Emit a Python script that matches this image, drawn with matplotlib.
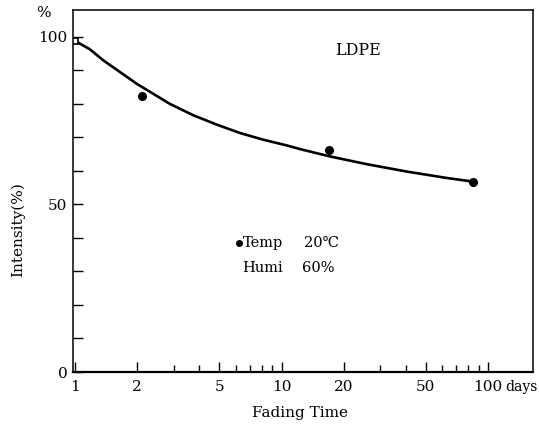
import numpy as np
import matplotlib
matplotlib.use('Agg')
from matplotlib import pyplot as plt
from matplotlib.ticker import FixedLocator, NullFormatter

plt.rcParams['font.family'] = ['DejaVu Serif', 'DejaVu Sans']

# measured points (days, intensity %)
point_days = [1.0, 2.1, 17.0, 84.5]
point_int = [98.8, 82.3, 66.3, 56.7]

# fitted curve
curve_days = [1.0, 1.18, 1.37, 1.99, 2.88, 3.74, 4.86, 6.3, 8.17, 10.6, 12.3,
              17.2, 25.9, 40.4, 63.0, 84.6]
curve_int = [98.8, 96.3, 93.0, 86.0, 80.0, 76.6, 73.8, 71.3, 69.3, 67.6, 66.5,
             64.3, 62.0, 59.8, 57.9, 56.8]

x_major = [1, 2, 5, 10, 20, 50, 100]
x_labels = ['1', '2', '5', '10', '20', '50', '100']
x_minor = [3, 4, 6, 7, 8, 9, 30, 40, 60, 70, 80, 90]
y_major = [0, 50, 100]
y_minor = [10, 20, 30, 40, 60, 70, 80, 90]

fig = plt.figure(figsize=(5.39, 4.28), dpi=100)
ax = fig.add_axes([0.1354, 0.1308, 0.8535, 0.8458])

ax.plot(curve_days, curve_int, color='black', lw=1.9, solid_capstyle='round',
        solid_joinstyle='round')
ax.plot(point_days[1:], point_int[1:], 'o', color='black', ms=5.5)
ax.plot(point_days[:1], point_int[:1], 's', mfc='white', mec='black', ms=4, mew=1.2)

ax.set_xscale('log')
ax.set_xlim(0.978, 165)
ax.set_ylim(0, 108)

ax.xaxis.set_major_locator(FixedLocator(x_major))
ax.xaxis.set_minor_locator(FixedLocator(x_minor))
ax.set_xticklabels(x_labels)
ax.xaxis.set_minor_formatter(NullFormatter())
ax.yaxis.set_major_locator(FixedLocator(y_major))
ax.yaxis.set_minor_locator(FixedLocator(y_minor))

ax.tick_params(which='both', direction='in', width=1.0, color='black',
               labelsize=11, top=False, right=False)
ax.tick_params(axis='x', which='major', length=7, pad=6)
ax.tick_params(axis='x', which='minor', length=5)
ax.tick_params(axis='y', which='both', length=7, pad=4)

for s in ax.spines.values():
    s.set_linewidth(1.1)
ax.spines['bottom'].set_linewidth(1.6)

ax.text(0.57, 0.889, 'LDPE', transform=ax.transAxes, fontsize=11.5,
        ha='left', va='center')
ax.plot([0.361], [0.356], 'o', color='black', ms=4, transform=ax.transAxes)
ax.text(0.370, 0.356, 'Temp', transform=ax.transAxes, fontsize=10.5, va='center')
ax.text(0.502, 0.356, '20℃', transform=ax.transAxes, fontsize=10.5, va='center')
ax.text(0.368, 0.287, 'Humi', transform=ax.transAxes, fontsize=10.5, va='center')
ax.text(0.498, 0.287, '60%', transform=ax.transAxes, fontsize=10.5, va='center')

fig.text(43 / 539, 1 - 13 / 428, '%', fontsize=11, ha='center', va='center')
fig.text(505 / 539, 1 - 387 / 428, 'days', fontsize=10, ha='left', va='center')
fig.text(300 / 539, 1 - 413 / 428, 'Fading Time', fontsize=11, ha='center', va='center')
fig.text(18 / 539, 1 - 230 / 428, 'Intensity(%)', fontsize=11, rotation=90,
         ha='center', va='center')

fig.savefig('out.png', dpi=100)
